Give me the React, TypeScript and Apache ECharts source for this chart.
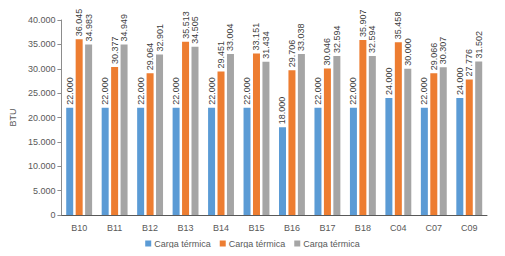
import React, { useEffect, useRef } from "react";
import * as echarts from "echarts";

const categories = ["B10", "B11", "B12", "B13", "B14", "B15", "B16", "B17", "B18", "C04", "C07", "C09"];
const seriesNames = ["Carga térmica", "Carga térmica", "Carga térmica"];
const series1 = [22000, 22000, 22000, 22000, 22000, 22000, 18000, 22000, 22000, 24000, 22000, 24000];
const series2 = [36045, 30377, 29064, 35513, 29451, 33151, 29706, 30046, 35907, 35458, 29066, 27776];
const series3 = [34983, 34949, 32901, 34505, 33004, 31434, 33038, 32594, 32594, 30000, 30307, 31502];
const colors = ["#5B9BD5", "#ED7D31", "#A5A5A5"];

const fmt = (v: number) => String(Math.round(v)).replace(/\B(?=(\d{3})+(?!\d))/g, ".");

export default function App() {
  const ref = useRef<HTMLDivElement>(null);
  useEffect(() => {
    const chart = echarts.init(ref.current!, null, { renderer: "svg" });
    const font = "'Liberation Sans', Arial, sans-serif";
    const mk = (name: string, data: number[], color: string) => ({
      name,
      type: "bar",
      data,
      barWidth: 7,
      barGap: "35%",
      itemStyle: { color },
      label: {
        show: true,
        position: "top",
        rotate: 90,
        align: "left",
        verticalAlign: "middle",
        distance: 3,
        fontSize: 9,
        fontFamily: font,
        color: "#404040",
        formatter: (p: any) => fmt(p.value),
      },
    });
    chart.setOption({
      animation: false,
      color: colors,
      grid: { left: 56, right: 18, top: 20, bottom: 41 },
      legend: {
        bottom: 3,
        left: "center",
        itemWidth: 6,
        itemHeight: 6,
        itemGap: 9,
        icon: "rect",
        textStyle: { fontSize: 9, fontFamily: font, color: "#595959", padding: [0, 0, 0, -2] },
        data: [0, 1, 2].map((i) => ({ name: seriesNames[i] + "\u200b".repeat(i) })),
      },
      xAxis: {
        type: "category",
        data: categories,
        axisLine: { lineStyle: { color: "#595959" } },
        axisTick: { show: false },
        axisLabel: { fontSize: 9, fontFamily: font, color: "#595959", margin: 8 },
      },
      yAxis: {
        type: "value",
        min: 0,
        max: 40000,
        interval: 5000,
        name: "BTU",
        nameLocation: "middle",
        nameGap: 40,
        nameTextStyle: { fontSize: 9, fontFamily: font, color: "#595959" },
        axisLine: { show: true, lineStyle: { color: "#8c8c8c" } },
        axisTick: { show: true, length: 4, lineStyle: { color: "#8c8c8c" } },
        splitLine: { show: false },
        axisLabel: { fontSize: 9, fontFamily: font, color: "#595959", margin: 6, formatter: (v: number) => fmt(v) },
      },
      series: [
        mk(seriesNames[0], series1, colors[0]),
        mk(seriesNames[1] + "\u200b", series2, colors[1]),
        mk(seriesNames[2] + "\u200b\u200b", series3, colors[2]),
      ],
    });
    return () => chart.dispose();
  }, []);
  return <div ref={ref} style={{ width: 505, height: 256, margin: -8 }} />;
}
